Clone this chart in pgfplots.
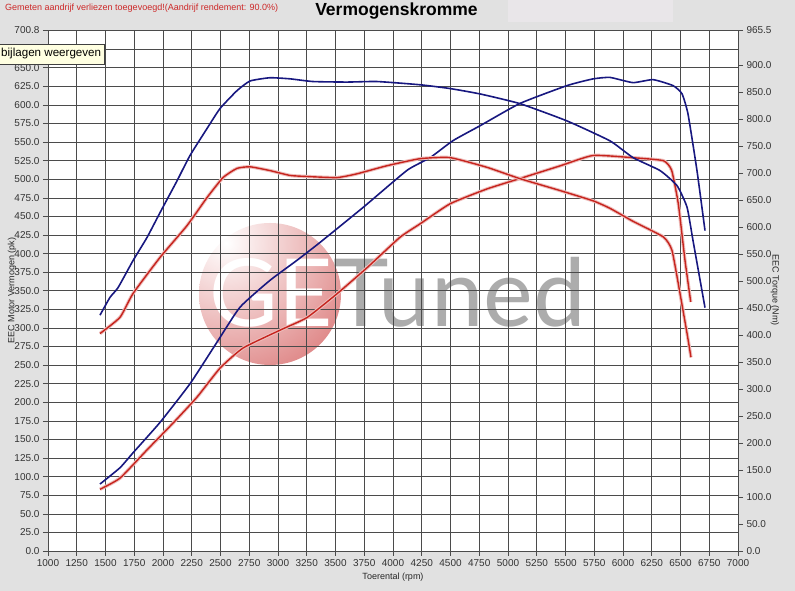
\documentclass[border=0pt]{standalone}
\usepackage{pgfplots}
\pgfplotsset{compat=1.18}
\usepackage{fontspec}
\setmainfont{Liberation Sans}
\newfontfamily\latofont{Lato}
\definecolor{bgc}{RGB}{225,225,225}
\definecolor{boxc}{RGB}{233,230,233}
\definecolor{bluec}{RGB}{24,24,128}
\definecolor{redc}{RGB}{198,36,30}
\definecolor{headc}{RGB}{205,40,40}
\definecolor{gridc}{RGB}{75,75,75}
\definecolor{tipc}{RGB}{255,255,225}
\definecolor{pinkc}{RGB}{221,128,128}
\definecolor{tunedc}{RGB}{172,172,172}
\begin{document}
\begin{tikzpicture}
\fill[bgc] (0,0) rectangle (795pt,591pt);
\fill[boxc] (508pt,569pt) rectangle (673pt,591pt);
\fill[white] (48pt,40pt) rectangle (738pt,561pt);
% watermark
\begin{scope}
\clip (270pt,297pt) circle (71pt);
\shade[inner color=white, outer color=pinkc] (226pt,348pt) circle (150pt);
\end{scope}
\node[anchor=base, text=white, font=\latofont\fontsize{94}{94}\selectfont, inner sep=0] at (271pt,264pt) {GE};
\node[anchor=base west, text=tunedc, font=\latofont\fontsize{94}{94}\selectfont, inner sep=0] at (333pt,264pt) {Tuned};
% header
\node[anchor=west, text=headc, font=\fontsize{9}{10}\selectfont, inner sep=0] at (5pt,583pt) {Gemeten aandrijf verliezen toegevoegd!(Aandrijf rendement: 90.0\%)};
\node[font=\bfseries\fontsize{17.5}{20}\selectfont, inner sep=0] at (396.5pt,580pt) {Vermogenskromme};

\begin{axis}[
  at={(48pt,40pt)}, anchor=south west, scale only axis, width=690pt, height=521pt,
  xmin=1000, xmax=7000, ymin=0, ymax=700.8,
  xtick={1000,1250,...,7000}, ytick={0,25,...,650,700.8},
  extra y ticks={675}, extra y tick labels={},
  xtick pos=bottom, ytick pos=left, tick align=outside, major tick length=5pt,
  grid=major, grid style={gridc, line width=0.6pt},
  axis line style={gridc, line width=0.6pt},
  tick style={gridc, line width=0.6pt},
  tick label style={font=\fontsize{10}{11}\selectfont, text=black!80},
  xticklabel style={/pgf/number format/.cd, set thousands separator={}, assume math mode=true},
  yticklabel style={/pgf/number format/.cd, fixed, fixed zerofill, precision=1, assume math mode=true},
  scaled y ticks=false, scaled x ticks=false,
  xlabel={Toerental (rpm)}, ylabel={EEC Motor Vermogen (pk)},
  label style={font=\fontsize{9}{10}\selectfont, text=black!85},
  xlabel style={at={(axis description cs:0.5,-0.05)}, anchor=center},
  ylabel style={at={(axis description cs:-0.052,0.5)}, anchor=center},
]
% blue power (pk)
\addplot[bluec, line width=1.6pt, smooth, tension=0.3] coordinates {
(1452,90) (1626,112) (1739,132) (1974,173) (2235,225) (2470,281) (2670,328)
(2930,364) (3165,391) (3365,415) (3739,462) (4122,512) (4322,529) (4522,552)
(4757,572) (5104,602) (5513,626) (5739,635) (5887,637) (6087,630) (6261,634)
(6435,626) (6513,615) (6565,588) (6643,512) (6713,431)
};
% red power (pk)
\addplot[redc, line width=1.4pt, smooth, tension=0.3, preaction={draw=redc!30, line width=3.4pt}] coordinates {
(1452,83) (1626,98) (1861,136) (2087,172) (2296,207) (2496,246) (2696,273)
(3017,297) (3252,314) (3513,346) (3774,381) (4061,422) (4235,440) (4496,467)
(4817,487) (5104,501) (5452,518) (5739,532) (6087,529) (6351,525) (6423,512)
(6481,467) (6539,391) (6589,335)
};
\end{axis}

\begin{axis}[
  at={(48pt,40pt)}, anchor=south west, scale only axis, width=690pt, height=521pt,
  xmin=1000, xmax=7000, ymin=0, ymax=965.5,
  hide x axis, axis y line*=right,
  ytick={0,50,...,900,965.5},
  tick align=outside, major tick length=5pt,
  axis line style={-, gridc, line width=0.6pt},
  tick style={gridc, line width=0.6pt},
  tick label style={font=\fontsize{10}{11}\selectfont, text=black!80},
  yticklabel style={/pgf/number format/.cd, fixed, fixed zerofill, precision=1, assume math mode=true},
  scaled y ticks=false,
  ylabel={EEC Torque (Nm)},
  label style={font=\fontsize{9}{10}\selectfont, text=black!85},
  ylabel style={at={(axis description cs:1.0536,0.5)}, anchor=center, rotate=180},
]
% blue torque (Nm)
\addplot[bluec, line width=1.6pt, smooth, tension=0.3] coordinates {
(1452,437) (1539,470) (1609,488) (1739,538) (1861,581) (1974,627) (2122,686)
(2235,733) (2383,783) (2496,820) (2643,853) (2757,871) (2930,877) (3104,875)
(3304,870) (3600,869) (3861,870) (4235,864) (4496,857) (4757,847) (5104,829)
(5513,797) (5887,760) (6087,729) (6322,705) (6470,677) (6557,637) (6609,575)
(6713,451)
};
% red torque (Nm)
\addplot[redc, line width=1.4pt, smooth, tension=0.3, preaction={draw=redc!30, line width=3.4pt}] coordinates {
(1452,403) (1626,433) (1739,477) (1974,544) (2209,603) (2383,655) (2522,692)
(2643,709) (2757,712) (2930,705) (3104,696) (3252,694) (3513,692) (3687,699)
(3948,714) (4235,727) (4496,729) (4817,711) (5104,690) (5452,668) (5739,649)
(5887,635) (6087,611) (6351,582) (6426,557) (6496,477) (6557,403) (6591,359)
};
\end{axis}

% tooltip
\draw[black!75, fill=tipc] (-2pt,527pt) rectangle (104pt,547pt);
\node[anchor=west, font=\fontsize{11.6}{14}\selectfont, inner sep=0] at (1pt,537pt) {bijlagen weergeven};

\pgfresetboundingbox
\path[use as bounding box] (0,0) rectangle (795pt,591pt);
\end{tikzpicture}
\end{document}
